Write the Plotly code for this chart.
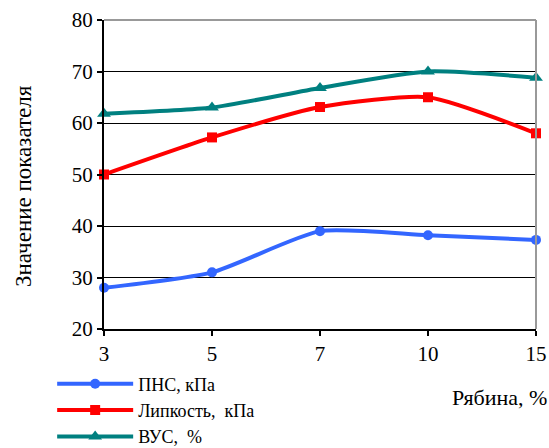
import plotly.graph_objects as go

categories = ["3", "5", "7", "10", "15"]
pns = [28, 31, 39, 38.2, 37.3]
lipkost = [50, 57.2, 63.1, 65, 58]
vus = [61.8, 63, 66.8, 70, 68.8]
series_names = ["ПНС, кПа", "Липкость,  кПа", "ВУС,  %"]
y_ticks = [20, 30, 40, 50, 60, 70, 80]

FONT = "Liberation Serif"

fig = go.Figure()
styles = [
    ("#3366FF", "circle", 10),
    ("#FF0000", "square", 10),
    ("#008080", "triangle-up", 12),
]
for name, vals, (col, sym, sz) in zip(series_names, [pns, lipkost, vus], styles):
    fig.add_trace(go.Scatter(
        x=categories, y=vals, name=name, mode="lines+markers",
        line=dict(color=col, width=4, shape="spline", smoothing=0.6),
        marker=dict(color=col, symbol=sym, size=sz),
        cliponaxis=False,
    ))

fig.update_layout(
    width=549, height=448,
    margin=dict(l=104, r=13, t=20, b=119, autoexpand=False),
    paper_bgcolor="white", plot_bgcolor="white",
    font=dict(family=FONT, size=21, color="black"),
    showlegend=True,
    legend=dict(
        x=-0.12, y=-0.118, xanchor="left", yanchor="top",
        bgcolor="rgba(0,0,0,0)", font=dict(size=18, family=FONT),
        itemwidth=76, tracegroupgap=0, maxheight=400,
    ),
    xaxis=dict(
        type="category", range=[0, 4], showgrid=False,
        showline=True, linecolor="black", linewidth=2,
        ticks="outside", ticklen=5, tickcolor="black", tickwidth=1.5,
        tickfont=dict(size=21, family=FONT), zeroline=False,
    ),
    yaxis=dict(
        range=[20, 80], tickvals=y_ticks, showgrid=True, gridcolor="black", gridwidth=1,
        showline=True, linecolor="black", linewidth=2,
        ticks="outside", ticklen=5, tickcolor="black", tickwidth=1.5,
        tickfont=dict(size=21, family=FONT), zeroline=False,
    ),
    shapes=[
        dict(type="line", xref="paper", yref="paper", x0=0, x1=1, y0=1, y1=1,
             line=dict(color="#999999", width=2)),
        dict(type="line", xref="paper", yref="paper", x0=1, x1=1, y0=0, y1=1,
             line=dict(color="#999999", width=2)),
    ],
    annotations=[
        dict(text="Значение показателя", xref="paper", yref="paper",
             x=(23 - 104) / 432, y=(329 - 186) / 309, xanchor="center", yanchor="middle",
             textangle=-90, showarrow=False, font=dict(size=23, family=FONT)),
        dict(text="Рябина, %", xref="paper", yref="paper",
             x=(549 - 104) / 432, y=(329 - 397) / 309, xanchor="right", yanchor="middle",
             showarrow=False, font=dict(size=22, family=FONT)),
    ],
)

fig.write_html("out.html")
